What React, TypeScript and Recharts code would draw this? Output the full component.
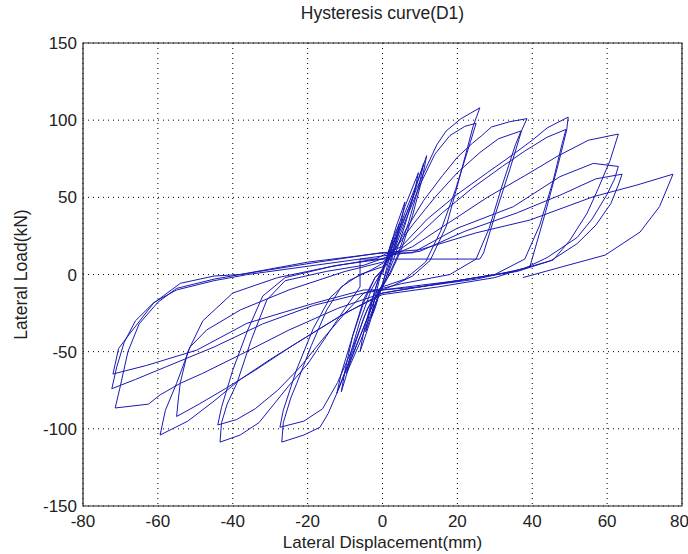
import { CartesianGrid, Line, LineChart, ReferenceArea, XAxis, YAxis } from "recharts";

type Pt = [number, number];

const xTicks = [-80, -60, -40, -20, 0, 20, 40, 60, 80];
const yTicks = [-150, -100, -50, 0, 50, 100, 150];

// each cycle: [displacement (mm), load (kN)]
const cycle01: Pt[] = [
  [0, 0], [1, 9], [2, 18], [3, 25], [2.2, 14], [1, 3], [0, -6], [-1, -14], [-2, -22], [-3, -28], [-2.2, -17], [-1, -5], [0, 3],
];
const cycle02: Pt[] = [
  [1, 10], [2.5, 22], [4.5, 33], [3.6, 22], [2, 8], [0, -6], [-2, -20], [-4.5, -37], [-3.6, -26], [-2, -10], [0, 4],
];
const cycle03: Pt[] = [
  [1.5, 12], [3.5, 30], [6, 47], [5, 34], [3, 14], [1, -2], [-1, -12], [-3.5, -32], [-6, -50], [-5, -37], [-3, -18], [-1, -2],
];
const cycle04: Pt[] = [
  [1, 8], [3, 22], [6, 44], [9.6, 66], [8.4, 52], [6, 32], [3, 10], [0, -8], [-3, -25], [-6, -44], [-9.6, -64], [-8.4, -50],
  [-6, -30], [-3, -10],
];
const cycle05: Pt[] = [
  [0, 3], [3, 20], [6, 40], [9, 58], [11.8, 77], [10.6, 62], [8, 38], [5, 16], [2, 0], [-1, -10], [-4, -28], [-8, -52],
  [-12.2, -77], [-11, -64], [-8, -40], [-5, -18], [-2, -2],
];
const cycle06: Pt[] = [
  [1, 6], [4, 24], [7.5, 46], [11, 72], [9.8, 58], [7, 34], [4, 12], [1, -4], [-2, -16], [-5, -34], [-8.5, -56], [-11, -76],
  [-10, -62], [-8, -40], [-5, -16], [-2, -2],
];
const cycle07: Pt[] = [
  [0, 2], [2, 14], [4, 27], [6.5, 40], [9, 55], [12, 71], [14.5, 84], [17, 93], [21, 101], [26, 108],
  [24.2, 96], [20.5, 62], [17, 31], [12.7, 9], [8, -1], [3, -7], [-2, -12],
  [-5, -28], [-8, -50], [-10.5, -66], [-12.2, -77], [-14.5, -90], [-16.7, -99], [-21, -104], [-26.9, -108.6],
  [-26.5, -96], [-24.5, -80], [-22.9, -70.5], [-19, -46], [-14.9, -23], [-11, -8], [-6, 0], [0, 5],
];
const cycle08: Pt[] = [
  [3, 15], [6, 34], [10, 58], [14, 78], [18, 90], [22, 96], [25, 98],
  [23.5, 86], [19.5, 55], [15.5, 28], [11.5, 8], [6, -3], [0, -8],
  [-4, -22], [-8, -48], [-12, -70], [-16, -87], [-21, -95], [-27.4, -99],
  [-26.5, -88], [-23, -62], [-18.5, -35], [-14, -15], [-9, -4], [-3, 3],
];
const cycle09: Pt[] = [
  [2, 10], [6, 28], [11, 48], [16, 64], [20, 76], [24, 85], [26.5, 90], [29.1, 95.6], [34, 99], [38.6, 101],
  [37.2, 93.6], [34, 68], [30, 38], [27, 14], [26, 10], [-6, 10], [-6, -8],
  [-10, -22], [-15, -40], [-20, -58], [-25, -72], [-29, -84], [-33, -96], [-38, -104], [-43.4, -108.6],
  [-43, -96], [-41.5, -84], [-38.9, -70.5], [-35, -42], [-30.9, -16.5], [-26, -4], [-15, 2], [-5, 6],
];
const cycle10: Pt[] = [
  [2, 12], [8, 32], [14, 50], [20, 66], [26, 79], [31, 88], [37, 93],
  [35.5, 84], [32, 58], [28.5, 30], [25, 10], [18, 0], [5, -6], [-5, -12],
  [-10, -25], [-16, -42], [-22, -60], [-28, -75], [-34, -87], [-39, -94], [-44, -97.5],
  [-43, -86], [-40, -62], [-36, -36], [-32, -14], [-26, -2], [-14, 5], [-2, 10],
];
const cycle11: Pt[] = [
  [5, 18], [12, 36], [20, 52], [28, 66], [35, 78], [40, 87], [44, 95], [49.6, 102],
  [49.2, 93.6], [47, 72], [43.5, 40], [39.4, 5.3], [30, -2], [15, -8], [0, -13],
  [-10, -25], [-20, -40], [-30, -55], [-38, -68], [-45, -82], [-52, -95], [-59.4, -104],
  [-58, -88], [-55, -70.5], [-51.4, -47], [-47, -36], [-38, -23], [-25, -10], [-10, 2], [0, 8],
];
const cycle12: Pt[] = [
  [8, 22], [16, 40], [24, 56], [32, 70], [38, 80], [44, 89], [49, 94],
  [48, 85], [45.5, 60], [42, 32], [38, 10], [30, 0], [15, -6], [0, -12],
  [-12, -28], [-24, -46], [-34, -62], [-42, -74], [-49, -84], [-55, -92],
  [-54.5, -80], [-54, -70], [-52, -50], [-48, -30], [-40, -12], [-28, -2], [-12, 6], [0, 10],
];
const cycle13: Pt[] = [
  [8, 18], [18, 34], [28, 50], [38, 64], [47, 77], [55, 87], [63, 91],
  [60.8, 74], [57.5, 55], [54.6, 39.5], [50, 22], [45.6, 9.4], [35, 2], [20, -4], [0, -12],
  [-12, -22], [-25, -36], [-38, -52], [-48, -64], [-54, -70.5], [-59.4, -78], [-62.5, -84], [-71.4, -86.5],
  [-70, -72], [-68, -50], [-65, -32], [-60, -18], [-55, -9], [-45, -3], [-38, 0], [-20, 8], [0, 14],
];
const cycle14: Pt[] = [
  [8, 14], [20, 30], [35, 44], [47.4, 63.4], [56.3, 72], [63, 70],
  [62, 62], [60, 52], [56, 36], [52, 24], [44, 11], [38, 4], [25, -3], [10, -8], [0, -10],
  [-5, -12], [-18.4, -20], [-32, -32], [-45, -47], [-58, -60], [-66, -68], [-72.3, -74],
  [-71, -60], [-69, -44], [-66, -30], [-61, -18], [-55, -10], [-45, -4], [-36, 0], [-18, 6], [0, 12],
];
const cycle15: Pt[] = [
  [10, 15], [22, 28], [36, 40], [48, 52], [57, 62], [64, 65],
  [63, 58], [61, 46], [57, 32], [52, 20], [45, 9], [36, 2], [20, -4], [0, -10],
  [-5, -10], [-18.4, -18.7], [-36.2, -31.6], [-49.6, -49], [-63, -58.9], [-72, -64.5],
  [-70.5, -48], [-67.4, -38], [-61.2, -18.7], [-54, -5.7], [-45, -1], [-38, 0], [-20, 7], [-0.7, 14],
];
const cycle16: Pt[] = [
  [10, 16], [25, 27], [39.4, 35.3], [56.3, 50.4], [68, 58], [77.6, 65],
  [74, 44], [68.8, 27.5], [59.5, 12.6], [48, 5], [37.5, -2],
];

const cycles = [
  cycle01, cycle02, cycle03, cycle04, cycle05, cycle06, cycle07, cycle08,
  cycle09, cycle10, cycle11, cycle12, cycle13, cycle14, cycle15, cycle16,
];

const data = cycles.flat().map(([disp, load]) => ({ disp, load }));

const font = "'Liberation Sans', Arial, sans-serif";
const textColor = "#222";

export default function App() {
  return (
    <div
      style={{
        position: "absolute",
        left: 0,
        top: 0,
        width: 688,
        height: 554,
        background: "#fff",
        fontFamily: font,
      }}
    >
      <div
        style={{
          position: "absolute",
          left: 83,
          width: 599,
          top: 3,
          textAlign: "center",
          fontSize: 17.5,
          color: textColor,
          lineHeight: "20px",
        }}
      >
        Hysteresis curve(D1)
      </div>
      <LineChart
        width={688}
        height={554}
        data={data}
        margin={{ top: 43, right: 6, bottom: 18, left: 0 }}
        style={{ fontFamily: font }}
      >
        <CartesianGrid stroke="#000" strokeDasharray="1 4" />
        <XAxis
          dataKey="disp"
          type="number"
          domain={[-80, 80]}
          ticks={xTicks}
          allowDataOverflow
          height={30}
          axisLine={false}
          tickLine={false}
          tickSize={6}
          tickMargin={3}
          tick={{ fill: textColor, fontSize: 17 }}
          label={{ value: "Lateral Displacement(mm)", position: "bottom", offset: 0, fill: textColor, fontSize: 17 }}
        />
        <YAxis
          dataKey="load"
          type="number"
          domain={[-150, 150]}
          ticks={yTicks}
          allowDataOverflow
          width={83}
          axisLine={false}
          tickLine={false}
          tickSize={4}
          tickMargin={2}
          tick={{ fill: textColor, fontSize: 17 }}
          label={{
            value: "Lateral Load(kN)",
            angle: -90,
            position: "insideLeft",
            offset: 21,
            fill: textColor,
            fontSize: 17.5,
            style: { textAnchor: "middle" },
          }}
        />
        <XAxis xAxisId="inBottom" dataKey="disp" type="number" domain={[-80, 80]} ticks={xTicks} orientation="bottom" mirror height={0} axisLine={false} tick={false} tickSize={5} stroke="#222" />
        <XAxis xAxisId="inTop" dataKey="disp" type="number" domain={[-80, 80]} ticks={xTicks} orientation="top" mirror height={0} axisLine={false} tick={false} tickSize={5} stroke="#222" />
        <YAxis yAxisId="inLeft" dataKey="load" type="number" domain={[-150, 150]} ticks={yTicks} orientation="left" mirror width={0} axisLine={false} tick={false} tickSize={5} stroke="#222" />
        <YAxis yAxisId="inRight" dataKey="load" type="number" domain={[-150, 150]} ticks={yTicks} orientation="right" mirror width={0} axisLine={false} tick={false} tickSize={5} stroke="#222" />
        <ReferenceArea x1={-80} x2={80} y1={-150} y2={150} fill="none" stroke="#222" strokeWidth={1.2} />
        <Line
          dataKey="load"
          type="linear"
          stroke="#1a1ab4"
          strokeWidth={1}
          dot={false}
          activeDot={false}
          isAnimationActive={false}
        />
      </LineChart>
    </div>
  );
}
